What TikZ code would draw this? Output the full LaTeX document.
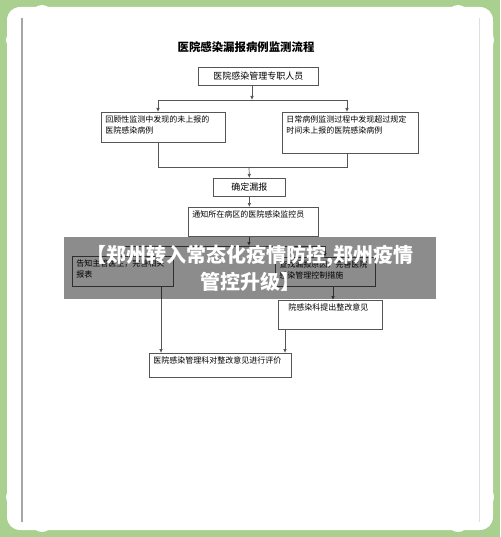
\documentclass[tikz,border=0pt]{standalone}
\usepackage{fontspec}
\newfontfamily\cjk{Noto Sans CJK SC}
\usetikzlibrary{arrows.meta}
\definecolor{bggreen}{HTML}{A9D08E}
\definecolor{edge}{HTML}{555555}
\newcommand\tbx[3]{\parbox[c][#2pt][t]{#1pt}{\raggedright #3}}
\begin{document}
\begin{tikzpicture}[x=1pt,y=-1pt,
  box/.style={draw=edge,line width=0.7pt,fill=white,inner xsep=4pt,inner ysep=3pt,anchor=north west,font=\cjk\fontsize{8}{11}\selectfont},
  cbox/.style={draw=edge,line width=0.7pt,fill=white,inner sep=0pt,anchor=north west,font=\cjk\fontsize{9}{11}\selectfont,align=center},
  conn/.style={draw=edge,line width=0.7pt},
  arr/.style={conn,-{Latex[length=4pt,width=3.5pt]}}]
\useasboundingbox (0,0) rectangle (500,537);
% background and frame
\fill[bggreen] (0,0) rectangle (500,537);
\fill[white,rounded corners=14pt] (7,7) rectangle (493,530);
\foreach \p/\r in {{(20,20)}/13,{(42,16)}/11,{(16,40)}/10,{(480,20)}/13,{(458,16)}/11,{(484,40)}/10,{(20,517)}/13,{(42,521)}/11,{(16,497)}/10,{(480,517)}/13,{(458,521)}/11,{(484,497)}/10}
  \fill[white] \p circle (\r);
\draw[gray!70,line width=2pt] (22,18) -- (22,522);
\draw[gray!25,line width=0.8pt] (479,18) -- (479,522);
% title
\node[font=\cjk\bfseries\fontsize{11.4}{13}\selectfont] (title) at (246,47) {医院感染漏报病例监测流程};
% boxes
\node[cbox,minimum width=120pt,minimum height=18pt] (b1) at (198,67) {医院感染管理专职人员};
\node[box] (b2) at (101,112) {\tbx{116}{24}{回顾性监测中发现的未上报的\\医院感染病例}};
\node[box] (b3) at (282,112) {\tbx{128}{35}{日常病例监测过程中发现超过规定\\时间未上报的医院感染病例}};
\node[cbox,minimum width=72pt,minimum height=18pt] (b4) at (213,178) {确定漏报};
\node[box] (b5) at (188,207) {\tbx{122}{23}{通知所在病区的医院感染监控员}};
\node[box] (b6) at (72,256) {\tbx{93}{24}{告知主管医生，完善相关\\报表}};
\node[box] (b7) at (275,257) {\tbx{92}{23}{查找漏报原因，完善医院\\感染管理控制措施}};
\node[box] (b8) at (278,300) {\tbx{96}{23}{\hspace*{6pt}院感染科提出整改意见}};
\node[box] (b9) at (149,353) {\tbx{134}{18}{医院感染管理科对整改意见进行评价}};
% junctions
\coordinate (j1) at (252,100);
\coordinate (jl) at (158,100);
\coordinate (jr) at (347,100);
\coordinate (kl) at (158,167);
\coordinate (kr) at (347,167);
\coordinate (k) at (249,167);
\coordinate (m) at (249,246);
\coordinate (ml) at (122,246);
\coordinate (mr) at (325,246);
\coordinate (pl) at (161,300);
\coordinate (pr) at (285,300);
\coordinate (q) at (333,300);
% connectors
\draw[arr] (b1.south -| j1) -- (j1);
\draw[conn] (jl) -- (jr);
\draw[arr] (jl) -- (jl |- b2.north);
\draw[arr] (jr) -- (jr |- b3.north);
\draw[conn] (kl |- b2.south) -- (kl) -- (kr) -- (kr |- b3.south);
\draw[arr] (k) -- (b4.north);
\draw[arr] (b4.south) -- (b5.north -| b4.south);
\draw[arr] (b5.south -| m) -- (m);
\draw[conn] (ml) -- (mr);
\draw[arr] (ml) -- (ml |- b6.north);
\draw[arr] (mr) -- (mr |- b7.north);
\draw[arr] (b7.south -| q) -- (q |- b8.north);
\draw[arr] (b6.south -| pl) -- (pl |- b9.north);
\draw[arr] (b8.south -| pr) -- (pr |- b9.north);
% overlay banner
\node[fill=black,fill opacity=0.45,text opacity=1,text=white,minimum width=372pt,minimum height=62pt,inner sep=0pt,anchor=north west,align=center,font=\cjk\bfseries\fontsize{20}{27}\selectfont] (banner) at (64,237) {【郑州转入常态化疫情防控,郑州疫情\\管控升级】};
\end{tikzpicture}
\end{document}
